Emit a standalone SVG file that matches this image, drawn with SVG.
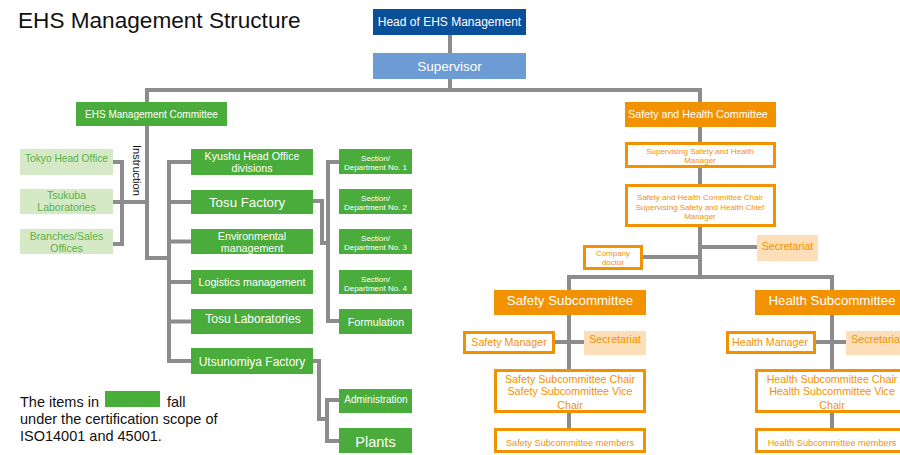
<svg xmlns="http://www.w3.org/2000/svg" width="900" height="455" viewBox="0 0 900 455">
<style>
text{font-family:"Liberation Sans",Arial,sans-serif;}
.ln{fill:none;stroke:#8c8c8c;stroke-width:4;stroke-linejoin:miter;stroke-linecap:butt}
.g{fill:#4aac3b}
.lg{fill:#d6e9c6}
.or{fill:#f39200}
.lo{fill:#fcdeb9}
.ob{fill:#ffffff;stroke:#f39200;stroke-width:3}
.w{fill:#ffffff;text-anchor:middle}
.gt{fill:#5cb04a;text-anchor:middle}
.ot{fill:#f39200;text-anchor:middle}
.lt{fill:#111111;font-size:14.5px}
</style>
<rect width="900" height="455" fill="#ffffff"/>
<text x="18" y="27.5" font-size="22.6" fill="#111111">EHS Management Structure</text>

<g id="connectors">
<path class="ln" d="M450,35 V53"/>
<path class="ln" d="M450,79 V90"/>
<path class="ln" d="M147,260 V90 H700 V277"/>
<path class="ln" d="M147,258 H169"/>
<path class="ln" d="M191,162 H169 V361 H191"/>
<path class="ln" d="M169,202 H191 M169,241.5 H191 M169,282 H191 M169,321.5 H191"/>
<path class="ln" d="M113,162 H122 V244 H113"/>
<path class="ln" d="M113,202 H147"/>
<path class="ln" d="M313,201 H322 V243 H328"/>
<path class="ln" d="M339,162 H328 V321 H339"/>
<path class="ln" d="M313,361 H319 V419 H327"/>
<path class="ln" d="M339,400 H327 V441 H339"/>
<path class="ln" d="M700,247 H757"/>
<path class="ln" d="M643,257 H700"/>
<path class="ln" d="M569,292 V277 H832 V292"/>
<path class="ln" d="M569,315 V428"/>
<path class="ln" d="M555,342 H584"/>
<path class="ln" d="M832,315 V428"/>
<path class="ln" d="M816,342 H846"/>
</g>

<g id="head">
<rect x="373" y="9" width="153" height="26" fill="#0a4f9a"/>
<text class="w" x="449.5" y="26.2" font-size="12">Head of EHS Management</text>
</g>
<g id="supervisor">
<rect x="373" y="53" width="153" height="26" fill="#6c9cd3"/>
<text class="w" x="449.5" y="70.5" font-size="13.5">Supervisor</text>
</g>
<g id="ehs-committee">
<rect class="g" x="76" y="102" width="151" height="24"/>
<text class="w" x="151.5" y="117.5" font-size="10">EHS Management Committee</text>
</g>

<g id="tokyo">
<rect class="lg" x="20" y="149" width="93" height="26"/>
<text class="gt" x="66.5" y="161.5" font-size="10.2">Tokyo Head Office</text>
</g>
<g id="tsukuba">
<rect class="lg" x="20" y="189" width="93" height="25"/>
<text class="gt" x="66.5" y="198.5" font-size="10.5">Tsukuba</text>
<text class="gt" x="66.5" y="210.5" font-size="10.5">Laboratories</text>
</g>
<g id="branches">
<rect class="lg" x="20" y="229" width="93" height="25"/>
<text class="gt" x="66.5" y="239.5" font-size="10.5">Branches/Sales</text>
<text class="gt" x="66.5" y="251.5" font-size="10.5">Offices</text>
</g>
<text x="133" y="145" font-size="11" fill="#111111" transform="rotate(90 133 145)">Instruction</text>

<g id="kyushu">
<rect class="g" x="191" y="149" width="122" height="26"/>
<text class="w" x="252" y="160" font-size="10.7">Kyushu Head Office</text>
<text class="w" x="252" y="172" font-size="10.7">divisions</text>
</g>
<g id="tosu-factory">
<rect class="g" x="191" y="190" width="122" height="24"/>
<text class="w" x="247" y="206.5" font-size="13.3">Tosu Factory</text>
</g>
<g id="environmental">
<rect class="g" x="191" y="229" width="122" height="25"/>
<text class="w" x="252" y="240" font-size="10.7">Environmental</text>
<text class="w" x="252" y="252" font-size="10.7">management</text>
</g>
<g id="logistics">
<rect class="g" x="191" y="270" width="122" height="24"/>
<text class="w" x="252" y="285.7" font-size="10.7">Logistics management</text>
</g>
<g id="tosu-labs">
<rect class="g" x="191" y="309" width="122" height="25"/>
<text class="w" x="253" y="323" font-size="12">Tosu Laboratories</text>
</g>
<g id="utsunomiya">
<rect class="g" x="191" y="348" width="122" height="26"/>
<text class="w" x="252" y="366" font-size="12">Utsunomiya Factory</text>
</g>

<g id="section1">
<rect class="g" x="339" y="149" width="73" height="25"/>
<text class="w" x="375.5" y="160.8" font-size="8">Section/</text>
<text class="w" x="375.5" y="170" font-size="8">Department No. 1</text>
</g>
<g id="section2">
<rect class="g" x="339" y="189" width="73" height="25"/>
<text class="w" x="375.5" y="200.8" font-size="8">Section/</text>
<text class="w" x="375.5" y="210" font-size="8">Department No. 2</text>
</g>
<g id="section3">
<rect class="g" x="339" y="229" width="73" height="25"/>
<text class="w" x="375.5" y="240.8" font-size="8">Section/</text>
<text class="w" x="375.5" y="250" font-size="8">Department No. 3</text>
</g>
<g id="section4">
<rect class="g" x="339" y="270" width="73" height="24"/>
<text class="w" x="375.5" y="281.8" font-size="8">Section/</text>
<text class="w" x="375.5" y="291" font-size="8">Department No. 4</text>
</g>
<g id="formulation">
<rect class="g" x="339" y="309" width="73" height="25"/>
<text class="w" x="376" y="325.5" font-size="10.7">Formulation</text>
</g>
<g id="administration">
<rect class="g" x="339" y="389" width="73" height="24"/>
<text class="w" x="376" y="402.5" font-size="10">Administration</text>
</g>
<g id="plants">
<rect class="g" x="339" y="428" width="73" height="25"/>
<text class="w" x="375.5" y="447" font-size="14.5">Plants</text>
</g>

<g id="legend">
<text class="lt" x="20" y="407">The items in</text>
<rect class="g" x="105" y="391" width="55" height="16"/>
<text class="lt" x="167" y="407">fall</text>
<text class="lt" x="20" y="424">under the certification scope of</text>
<text class="lt" x="20" y="441">ISO14001 and 45001.</text>
</g>

<g id="sh-committee">
<rect class="or" x="625" y="102" width="151" height="25"/>
<text class="w" x="698" y="117.5" font-size="10.7">Safety and Health Committee</text>
</g>
<g id="supervising-manager">
<rect class="ob" x="626.5" y="143.5" width="148" height="23"/>
<text class="ot" x="700" y="154" font-size="8">Supervising Safety and Health</text>
<text class="ot" x="700" y="163" font-size="8">Manager</text>
</g>
<g id="sh-chair">
<rect class="ob" x="626.5" y="185.5" width="148" height="40"/>
<text class="ot" x="700" y="200" font-size="8">Safety and Health Committee Chair</text>
<text class="ot" x="700" y="209.5" font-size="8">Supervising Safety and Health Chief</text>
<text class="ot" x="700" y="219" font-size="8">Manager</text>
</g>
<g id="secretariat-top">
<rect class="lo" x="757" y="235" width="61" height="26"/>
<text class="ot" x="787.5" y="249.5" font-size="10.7">Secretariat</text>
</g>
<g id="company-doctor">
<rect class="ob" x="584.5" y="246.5" width="57" height="22"/>
<text class="ot" x="613" y="255.5" font-size="8">Company</text>
<text class="ot" x="613" y="264.5" font-size="8">doctor</text>
</g>

<g id="safety-sub">
<rect class="or" x="494" y="290" width="152" height="25"/>
<text class="w" x="570" y="305" font-size="13.3">Safety Subcommittee</text>
</g>
<g id="safety-manager">
<rect class="ob" x="464.5" y="332.5" width="89" height="20"/>
<text class="ot" x="509" y="346" font-size="10.7">Safety Manager</text>
</g>
<g id="safety-secretariat">
<rect class="lo" x="584" y="331" width="62" height="24"/>
<text class="ot" x="615" y="343" font-size="10.7">Secretariat</text>
</g>
<g id="safety-chair">
<rect class="ob" x="495.5" y="370.5" width="149" height="41"/>
<text class="ot" x="570" y="383" font-size="10.7">Safety Subcommittee Chair</text>
<text class="ot" x="570" y="395" font-size="10.7">Safety Subcommittee Vice</text>
<text class="ot" x="570" y="408.5" font-size="10.7">Chair</text>
</g>
<g id="safety-members">
<rect class="ob" x="495.5" y="429.5" width="149" height="22"/>
<text class="ot" x="570" y="445.5" font-size="9.2">Safety Subcommittee members</text>
</g>

<g id="health-sub">
<rect class="or" x="755" y="290" width="154" height="25"/>
<text class="w" x="832" y="305" font-size="13.3">Health Subcommittee</text>
</g>
<g id="health-manager">
<rect class="ob" x="727.5" y="332.5" width="87" height="20"/>
<text class="ot" x="770" y="346" font-size="10.7">Health Manager</text>
</g>
<g id="health-secretariat">
<rect class="lo" x="846" y="331" width="62" height="24"/>
<text class="ot" x="877" y="343" font-size="10.7">Secretariat</text>
</g>
<g id="health-chair">
<rect class="ob" x="756.5" y="370.5" width="151" height="41"/>
<text class="ot" x="832" y="383" font-size="10.7">Health Subcommittee Chair</text>
<text class="ot" x="832" y="395" font-size="10.7">Health Subcommittee Vice</text>
<text class="ot" x="832" y="408.5" font-size="10.7">Chair</text>
</g>
<g id="health-members">
<rect class="ob" x="756.5" y="429.5" width="151" height="22"/>
<text class="ot" x="832" y="445.5" font-size="9.2">Health Subcommittee members</text>
</g>
</svg>
